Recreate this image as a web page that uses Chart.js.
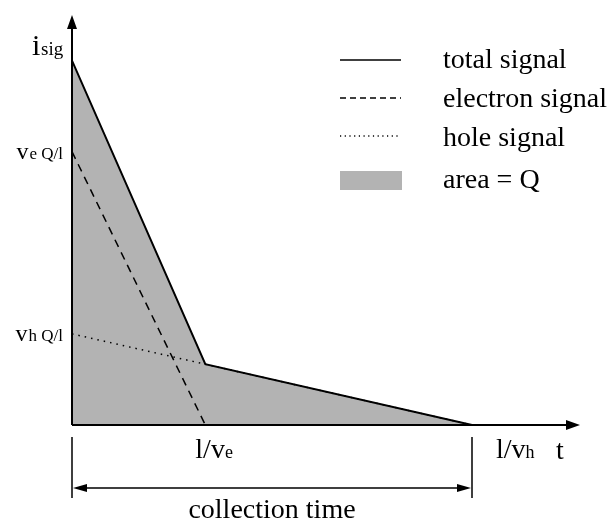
<!DOCTYPE html>
<html>
<head>
<meta charset="utf-8">
<script src="https://cdn.jsdelivr.net/npm/chart.js@4/dist/chart.umd.min.js"></script>
<style>
  html, body { margin: 0; padding: 0; background: #fff; }
  #wrap { width: 613px; height: 525px; }
</style>
</head>
<body>
<div id="wrap"><canvas id="c" width="613" height="525"></canvas></div>
<script>
// --- data (time in units of l/vh / 3, current in units of vh Q/l) ---
const tTicks = [1, 3];                 // l/ve, l/vh
const tTickLabels = [['l/v', 'e'], ['l/v', 'h']];
const totalT = [0, 1, 3];
const totalI = [4, 0.667, 0];
const electronT = [0, 1];
const electronI = [3, 0];
const holeT = [0, 1, 3];
const holeI = [1, 0.667, 0];
const yTicks = [3, 1];
const yTickLabels = [['v', 'e Q/l'], ['v', 'h Q/l']];
const legendLabels = ['total signal', 'electron signal', 'hole signal', 'area = Q'];

const SERIF = '"Liberation Serif", "DejaVu Serif", serif';
const GREY = '#b3b3b3';

const pts = (xs, ys) => xs.map((x, i) => ({ x, y: ys[i] }));

// draws axes with arrows, tick labels, dimension line and legend
const decor = {
    id: 'decor',
    afterDatasetsDraw(chart) {
        const { ctx, scales: { x, y } } = chart;
        const x0 = x.getPixelForValue(0), y0 = y.getPixelForValue(0);
        const xEnd = x.getPixelForValue(x.max), yEnd = y.getPixelForValue(y.max);
        ctx.save();
        ctx.strokeStyle = '#000';
        ctx.fillStyle = '#000';
        ctx.lineWidth = 2;
        ctx.setLineDash([]);

        // axes
        ctx.beginPath();
        ctx.moveTo(x0, y0); ctx.lineTo(xEnd - 8, y0);
        ctx.moveTo(x0, y0); ctx.lineTo(x0, yEnd + 8);
        ctx.stroke();
        ctx.beginPath();
        ctx.moveTo(xEnd, y0); ctx.lineTo(xEnd - 14, y0 - 5); ctx.lineTo(xEnd - 14, y0 + 5); ctx.closePath();
        ctx.moveTo(x0, yEnd); ctx.lineTo(x0 - 5, yEnd + 14); ctx.lineTo(x0 + 5, yEnd + 14); ctx.closePath();
        ctx.fill();

        // axis titles
        ctx.textBaseline = 'alphabetic';
        ctx.textAlign = 'left';
        ctx.font = '30px ' + SERIF;
        ctx.fillText('i', 32, 55);
        ctx.font = '19px ' + SERIF;
        ctx.fillText('sig', 41, 55);
        ctx.font = '28px ' + SERIF;
        ctx.fillText('t', 556, 459);

        // y tick labels (subscript style)
        yTicks.forEach((v, i) => {
            const py = y.getPixelForValue(v) + 7;
            const [big, small] = yTickLabels[i];
            ctx.font = '17px ' + SERIF;
            const ws = ctx.measureText(small).width;
            ctx.textAlign = 'right';
            ctx.fillText(small, x0 - 9, py);
            ctx.font = '24px ' + SERIF;
            ctx.fillText(big, x0 - 10 - ws, py);
        });

        // x tick labels
        tTicks.forEach((v, i) => {
            const px = x.getPixelForValue(v);
            const [big, small] = tTickLabels[i];
            ctx.textAlign = 'left';
            ctx.font = '28px ' + SERIF;
            const wb = ctx.measureText(big).width;
            const start = i === 0 ? px - 10 : px + 24;
            ctx.fillText(big, start, 458);
            ctx.font = '18px ' + SERIF;
            ctx.fillText(small, start + wb, 458);
        });

        // collection time dimension
        const x1 = x.getPixelForValue(tTicks[1]);
        const dy = 488;
        ctx.lineWidth = 1.5;
        ctx.beginPath();
        ctx.moveTo(x0, 437); ctx.lineTo(x0, 498);
        ctx.moveTo(x1, 437); ctx.lineTo(x1, 498);
        ctx.moveTo(x0 + 10, dy); ctx.lineTo(x1 - 10, dy);
        ctx.stroke();
        ctx.beginPath();
        ctx.moveTo(x0 + 1, dy); ctx.lineTo(x0 + 15, dy - 4); ctx.lineTo(x0 + 15, dy + 4); ctx.closePath();
        ctx.moveTo(x1 - 1, dy); ctx.lineTo(x1 - 15, dy - 4); ctx.lineTo(x1 - 15, dy + 4); ctx.closePath();
        ctx.fill();
        ctx.textAlign = 'center';
        ctx.font = '28px ' + SERIF;
        ctx.fillText('collection time', (x0 + x1) / 2, 518);

        // legend
        const lx0 = 340, lx1 = 401, tx = 443;
        const rows = [60, 98, 136, 181];
        ctx.textAlign = 'left';
        ctx.font = '28px ' + SERIF;
        ctx.lineWidth = 1.5;
        ctx.beginPath(); ctx.setLineDash([]);
        ctx.moveTo(lx0, rows[0]); ctx.lineTo(lx1, rows[0]); ctx.stroke();
        ctx.beginPath(); ctx.setLineDash([6, 4]);
        ctx.moveTo(lx0, rows[1]); ctx.lineTo(lx1, rows[1]); ctx.stroke();
        ctx.beginPath(); ctx.setLineDash([1.2, 3.5]);
        ctx.moveTo(lx0, rows[2]); ctx.lineTo(lx1, rows[2]); ctx.stroke();
        ctx.setLineDash([]);
        ctx.fillStyle = GREY;
        ctx.fillRect(lx0, rows[3] - 10, 62, 19);
        ctx.fillStyle = '#000';
        const baselines = [68, 107, 146, 188];
        legendLabels.forEach((l, i) => ctx.fillText(l, tx, baselines[i]));
        ctx.restore();
    }
};

new Chart(document.getElementById('c'), {
    type: 'line',
    data: {
        datasets: [
            {
                label: legendLabels[0],
                data: pts(totalT, totalI),
                borderColor: '#000',
                borderWidth: 2,
                backgroundColor: GREY,
                fill: 'origin',
                pointRadius: 0,
                tension: 0,
                order: 3
            },
            {
                label: legendLabels[1],
                data: pts(electronT, electronI),
                borderColor: '#000',
                borderWidth: 1.5,
                borderDash: [8, 6],
                fill: false,
                pointRadius: 0,
                order: 2
            },
            {
                label: legendLabels[2],
                data: pts(holeT, holeI),
                borderColor: '#000',
                borderWidth: 1.5,
                borderDash: [1.5, 5],
                fill: false,
                pointRadius: 0,
                order: 1
            }
        ]
    },
    options: {
        responsive: false,
        animation: false,
        layout: { padding: { left: 72, right: 33, top: 15, bottom: 100 } },
        plugins: { legend: { display: false }, tooltip: { enabled: false } },
        scales: {
            x: { type: 'linear', min: 0, max: 3.81, display: false },
            y: { type: 'linear', min: 0, max: 4.5, display: false }
        }
    },
    plugins: [decor]
});
</script>
</body>
</html>
